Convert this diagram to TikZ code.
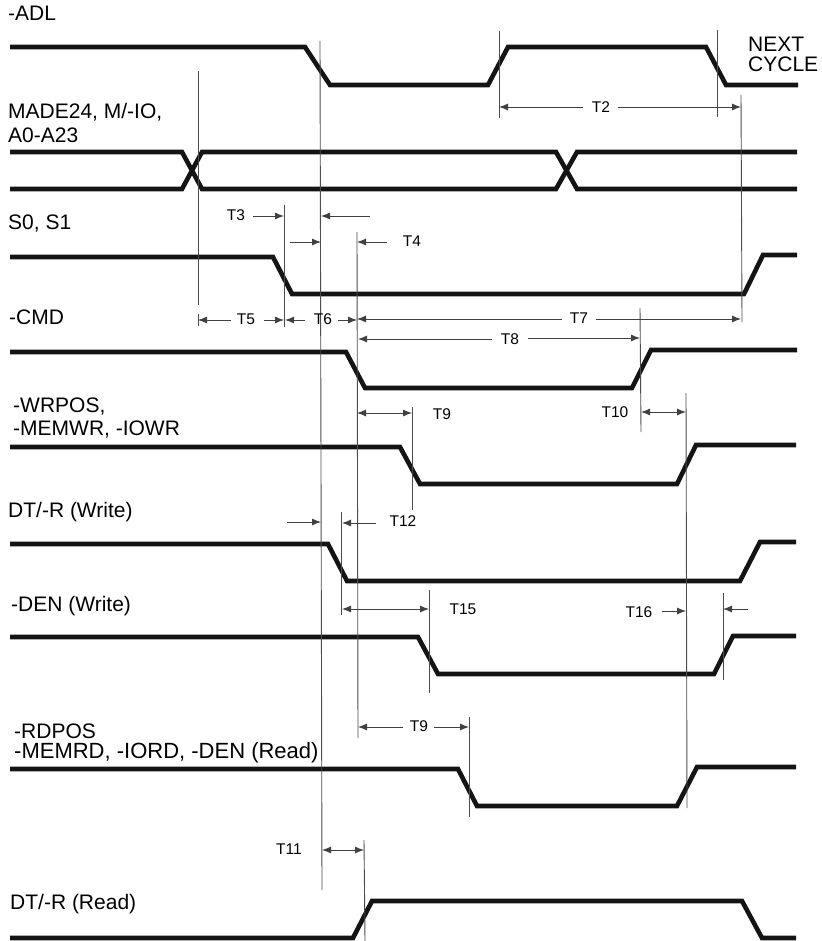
\documentclass[tikz,border=0pt]{standalone}
\usepackage{fontspec}
\setmainfont{Liberation Sans}
\usetikzlibrary{arrows.meta}
\tikzset{
  sig/.style={line width=4.6pt,line join=miter,line cap=butt,black!92},
  guide/.style={line width=0.9pt,black!70},
  dimline/.style={line width=0.9pt,black!75},
  ra/.style={dimline,-{Latex[length=9pt,width=7pt]}},
  da/.style={dimline,{Latex[length=9pt,width=7pt]}-{Latex[length=9pt,width=7pt]}},
  lab/.style={anchor=west,inner sep=0pt,font=\fontsize{21}{21}\selectfont},
  tm/.style={inner sep=0pt,font=\fontsize{15.5}{15.5}\selectfont},
}
\begin{document}
\begin{tikzpicture}[x=1pt,y=-1pt]
\useasboundingbox (0,0) rectangle (821,941);
% signals
\draw[sig] (10,47)--(305,47)--(330,85)--(488,85)--(508,47)--(706,47)--(726,85)--(798,85);
\draw[sig] (10,152)--(182,152)--(202,189)--(556,189)--(577,152)--(797,152);
\draw[sig] (10,189)--(182,189)--(202,152)--(556,152)--(577,189)--(797,189);
\draw[sig] (10,257)--(273,257)--(292,294)--(744,294)--(763,255)--(797,255);
\draw[sig] (10,352)--(346,352)--(365,388)--(632,388)--(651,350)--(797,350);
\draw[sig] (10,447)--(400,447)--(420,484)--(677,484)--(696,445)--(796,445);
\draw[sig] (10,544)--(328,544)--(347,581)--(740,581)--(760,542)--(796,542);
\draw[sig] (10,637)--(418,637)--(438,674)--(714,674)--(733,636)--(796,636);
\draw[sig] (10,769)--(458,769)--(477,806)--(677,806)--(697,767)--(796,767);
\draw[sig] (10,938)--(353,938)--(372,901)--(742,901)--(762,938)--(796,938);
% guides
\draw[guide] (198,71)--(198,305) (198,314)--(198,326);
\draw[guide] (284,205)--(284,327);
\draw[guide] (320,41)--(322,890);
\draw[guide] (357,232)--(358,738);
\draw[guide] (499,31)--(499,118);
\draw[guide] (717,30)--(717,117);
\draw[guide] (741,95)--(742,322);
\draw[guide] (640,308)--(641,432);
\draw[guide] (412,407)--(412,510);
\draw[guide] (686,393)--(687,808);
\draw[guide] (341,512)--(341,615);
\draw[guide] (429,590)--(429,693);
\draw[guide] (723,593)--(723,680);
\draw[guide] (469,717)--(469,817);
\draw[guide] (364,840)--(365,941);
% labels
\node[lab] (adl) at (8,13) {-ADL};
\node[lab] (next) at (748,44) {NEXT};
\node[lab] (cycle) at (748,64) {CYCLE};
\node[lab] (made) at (8,112) {MADE24, M/-IO,};
\node[lab] (aa) at (8,135) {A0-A23};
\node[lab] (ss) at (8,224) {S0, S1};
\node[lab] (cmd) at (9,317) {-CMD};
\node[lab] (wr) at (13,407) {-WRPOS,};
\node[lab] (mw) at (13,430) {-MEMWR, -IOWR};
\node[lab] (dw) at (8,512) {DT/-R (Write)};
\node[lab] (den) at (11,606) {-DEN (Write)};
\node[lab] (rd) at (14,731) {-RDPOS};
\node[lab,font=\fontsize{22}{22}\selectfont] (mr) at (14,753) {-MEMRD, -IORD, -DEN (Read)};
\node[lab] (dr) at (10,904) {DT/-R (Read)};
% timing labels and arrows
\node[tm] (T2) at (601,107) {T2};
\draw[ra] (583,107)--(499,107);
\draw[ra] (618,107)--(741,107);
\node[tm] (T3) at (236,215) {T3};
\draw[ra] (253,216)--(284,216);
\draw[ra] (370,216)--(321,216);
\draw[ra] (290,242)--(321,242);
\draw[ra] (387,242)--(357,242);
\node[tm] (T4) at (412,241) {T4};
\node[tm] (T5) at (246,319) {T5};
\draw[ra] (231,320)--(198,320);
\draw[ra] (264,320)--(284,320);
\node[tm] (T6) at (323,319) {T6};
\draw[ra] (305,320)--(285,320);
\draw[ra] (338,320)--(357,320);
\node[tm] (T7) at (579,318) {T7};
\draw[ra] (562,319)--(357,319);
\draw[ra] (596,319)--(741,319);
\node[tm] (T8) at (510,339) {T8};
\draw[ra] (492,339)--(358,339);
\draw[ra] (528,338)--(640,338);
\draw[da] (357,413)--(412,413);
\node[tm] (T9a) at (442,414) {T9};
\node[tm] (T10) at (615,412) {T10};
\draw[da] (641,412)--(686,412);
\draw[ra] (287,522)--(321,522);
\draw[ra] (376,523)--(342,523);
\node[tm] (T12) at (403,521) {T12};
\draw[da] (342,609)--(429,609);
\node[tm] (T15) at (463,609) {T15};
\node[tm] (T16) at (639,612) {T16};
\draw[ra] (662,611)--(686,611);
\draw[ra] (748,609)--(723,609);
\node[tm] (T9b) at (419,726) {T9};
\draw[ra] (403,727)--(358,727);
\draw[ra] (434,727)--(469,727);
\node[tm] (T11) at (289,849) {T11};
\draw[da] (322,850)--(364,850);
\end{tikzpicture}
\end{document}
